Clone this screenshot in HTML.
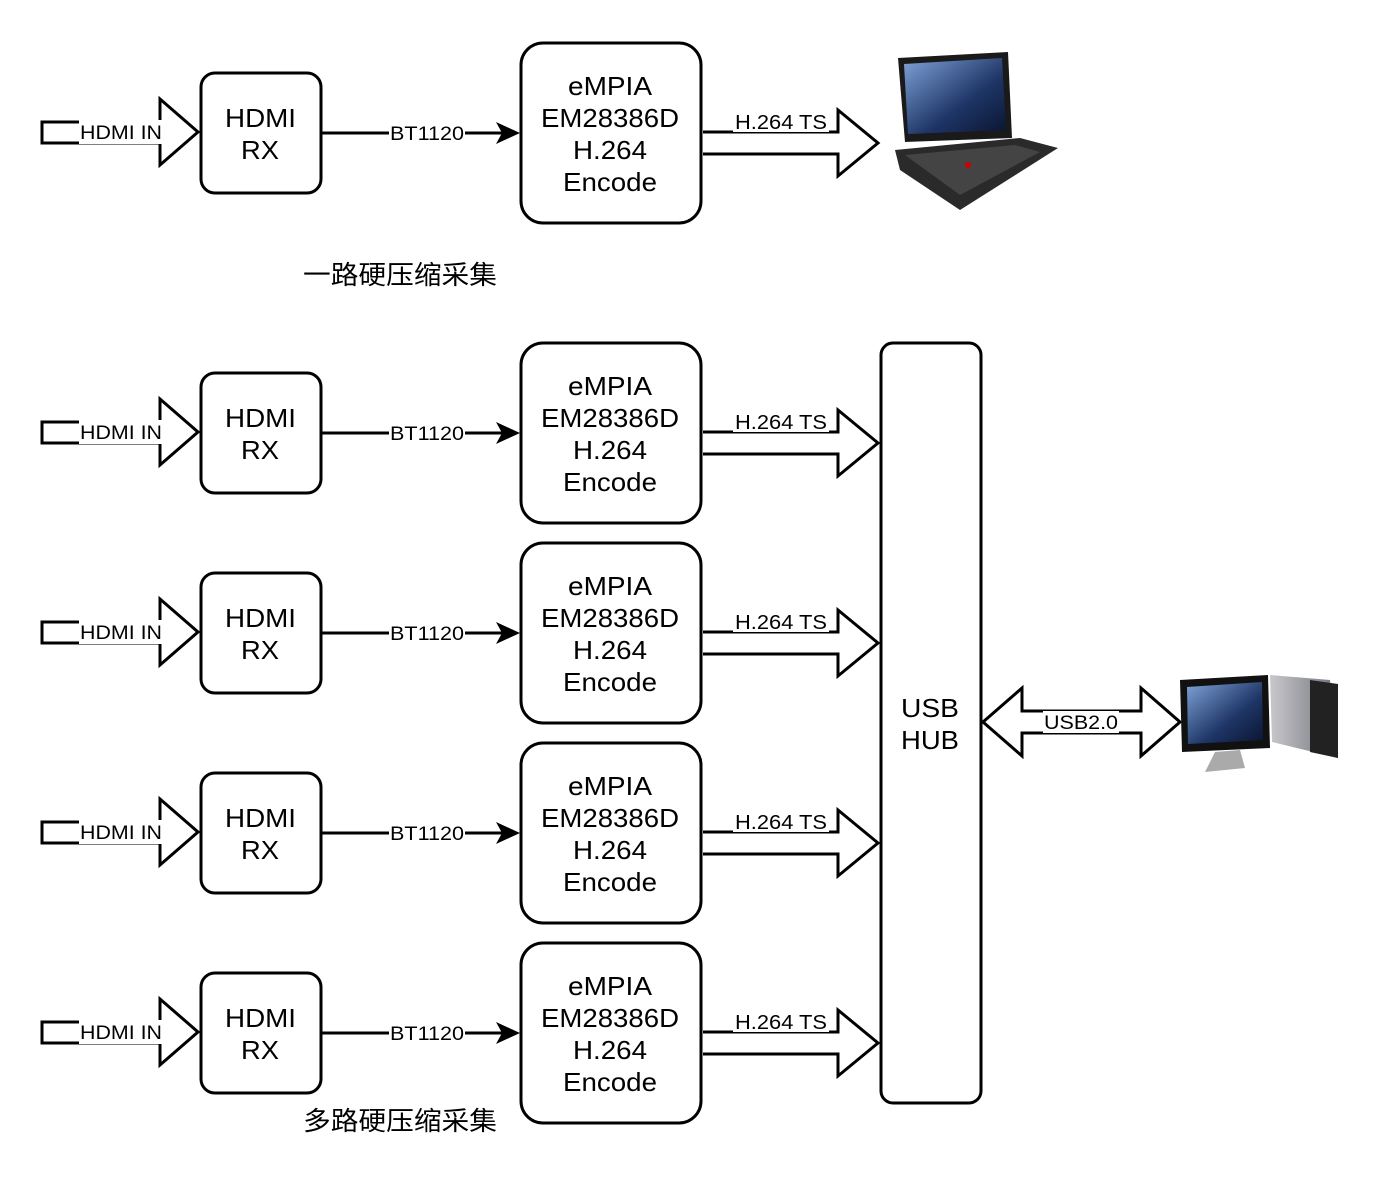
<!DOCTYPE html>
<html><head><meta charset="utf-8"><style>
body{margin:0;background:#fff}
text{font-family:"Liberation Sans","Noto Sans CJK SC",sans-serif}
</style></head><body>
<svg width="1384" height="1190" viewBox="0 0 1384 1190" xmlns="http://www.w3.org/2000/svg">
<defs>
<linearGradient id="scr" x1="0" y1="0" x2="1" y2="1"><stop offset="0" stop-color="#7fa3d8"/><stop offset="0.6" stop-color="#1e3566"/><stop offset="1" stop-color="#0a1530"/></linearGradient>
<linearGradient id="tw" x1="0" y1="0" x2="1" y2="0"><stop offset="0" stop-color="#c8c8cc"/><stop offset="1" stop-color="#70707a"/></linearGradient>
<g id="row">
  <path d="M42,122 H160 V99 L198,132 L160,165 V143 H42 Z" fill="#fff" stroke="#000" stroke-width="3" stroke-linejoin="miter"/>
  <rect x="79" y="120" width="84" height="24" fill="#fff"/>
  <text x="80" y="139" font-size="19" textLength="82" lengthAdjust="spacingAndGlyphs">HDMI IN</text>
  <rect x="201" y="73" width="120" height="120" rx="14" fill="#fff" stroke="#000" stroke-width="3"/>
  <text x="225" y="127" font-size="26" textLength="71" lengthAdjust="spacingAndGlyphs">HDMI</text>
  <text x="241" y="159" font-size="26" textLength="38" lengthAdjust="spacingAndGlyphs">RX</text>
  <line x1="321" y1="133" x2="504" y2="133" stroke="#000" stroke-width="3"/>
  <path d="M496,122 L520,133 L496,144 L502,133 Z" fill="#000"/>
  <rect x="389" y="122" width="76" height="22" fill="#fff"/>
  <text x="390" y="140" font-size="19" textLength="74" lengthAdjust="spacingAndGlyphs">BT1120</text>
  <rect x="521" y="43" width="180" height="180" rx="22" fill="#fff" stroke="#000" stroke-width="3"/>
  <text x="568" y="95" font-size="26" textLength="84" lengthAdjust="spacingAndGlyphs">eMPIA</text>
  <text x="541" y="127" font-size="26" textLength="138" lengthAdjust="spacingAndGlyphs">EM28386D</text>
  <text x="573" y="159" font-size="26" textLength="74" lengthAdjust="spacingAndGlyphs">H.264</text>
  <text x="563" y="191" font-size="26" textLength="94" lengthAdjust="spacingAndGlyphs">Encode</text>
  <path d="M703,132 H838 V110 L878,143 L838,176 V154 H703" fill="#fff" stroke="#000" stroke-width="3"/>
  <rect x="733" y="110" width="96" height="22" fill="#fff"/>
  <text x="735" y="129" font-size="20" textLength="92" lengthAdjust="spacingAndGlyphs">H.264 TS</text>
</g>
</defs>
<use href="#row"/>
<use href="#row" y="300"/>
<use href="#row" y="500"/>
<use href="#row" y="700"/>
<use href="#row" y="900"/>
<text x="303" y="284" font-size="26" textLength="194" lengthAdjust="spacingAndGlyphs">一路硬压缩采集</text>
<text x="303" y="1130" font-size="26" textLength="194" lengthAdjust="spacingAndGlyphs">多路硬压缩采集</text>
<rect x="881" y="343" width="100" height="760" rx="12" fill="#fff" stroke="#000" stroke-width="3"/>
<text x="901" y="717" font-size="26" textLength="58" lengthAdjust="spacingAndGlyphs">USB</text>
<text x="901" y="749" font-size="26" textLength="58" lengthAdjust="spacingAndGlyphs">HUB</text>
<path d="M983,722 L1022,688 V711 H1141 V688 L1180,722 L1141,756 V733 H1022 V756 Z" fill="#fff" stroke="#000" stroke-width="3"/>
<rect x="1043" y="711" width="76" height="22" fill="#fff"/>
<text x="1044" y="729" font-size="19" textLength="74" lengthAdjust="spacingAndGlyphs">USB2.0</text>
<!-- laptop -->
<g>
<path d="M898,58 L1008,52 L1012,138 L905,142 Z" fill="#1a1a1a"/>
<path d="M904,64 L1002,58 L1006,130 L908,134 Z" fill="url(#scr)"/>
<path d="M895,150 L1020,138 L1058,148 L960,210 L900,170 Z" fill="#2a2a2a"/>
<path d="M905,155 L1015,145 L1040,152 L960,195 Z" fill="#444"/>
<circle cx="968" cy="165" r="3" fill="#c00"/>
</g>
<!-- pc -->
<g>
<path d="M1270,675 L1330,680 L1338,758 L1272,742 Z" fill="url(#tw)"/>
<path d="M1310,680 L1338,684 L1338,758 L1310,752 Z" fill="#222"/>
<path d="M1180,680 L1268,675 L1270,748 L1182,752 Z" fill="#111"/>
<path d="M1187,687 L1262,682 L1263,740 L1188,744 Z" fill="url(#scr)"/>
<path d="M1215,752 L1240,750 L1245,768 L1205,772 Z" fill="#aaa"/>
</g>
</svg>
</body></html>
